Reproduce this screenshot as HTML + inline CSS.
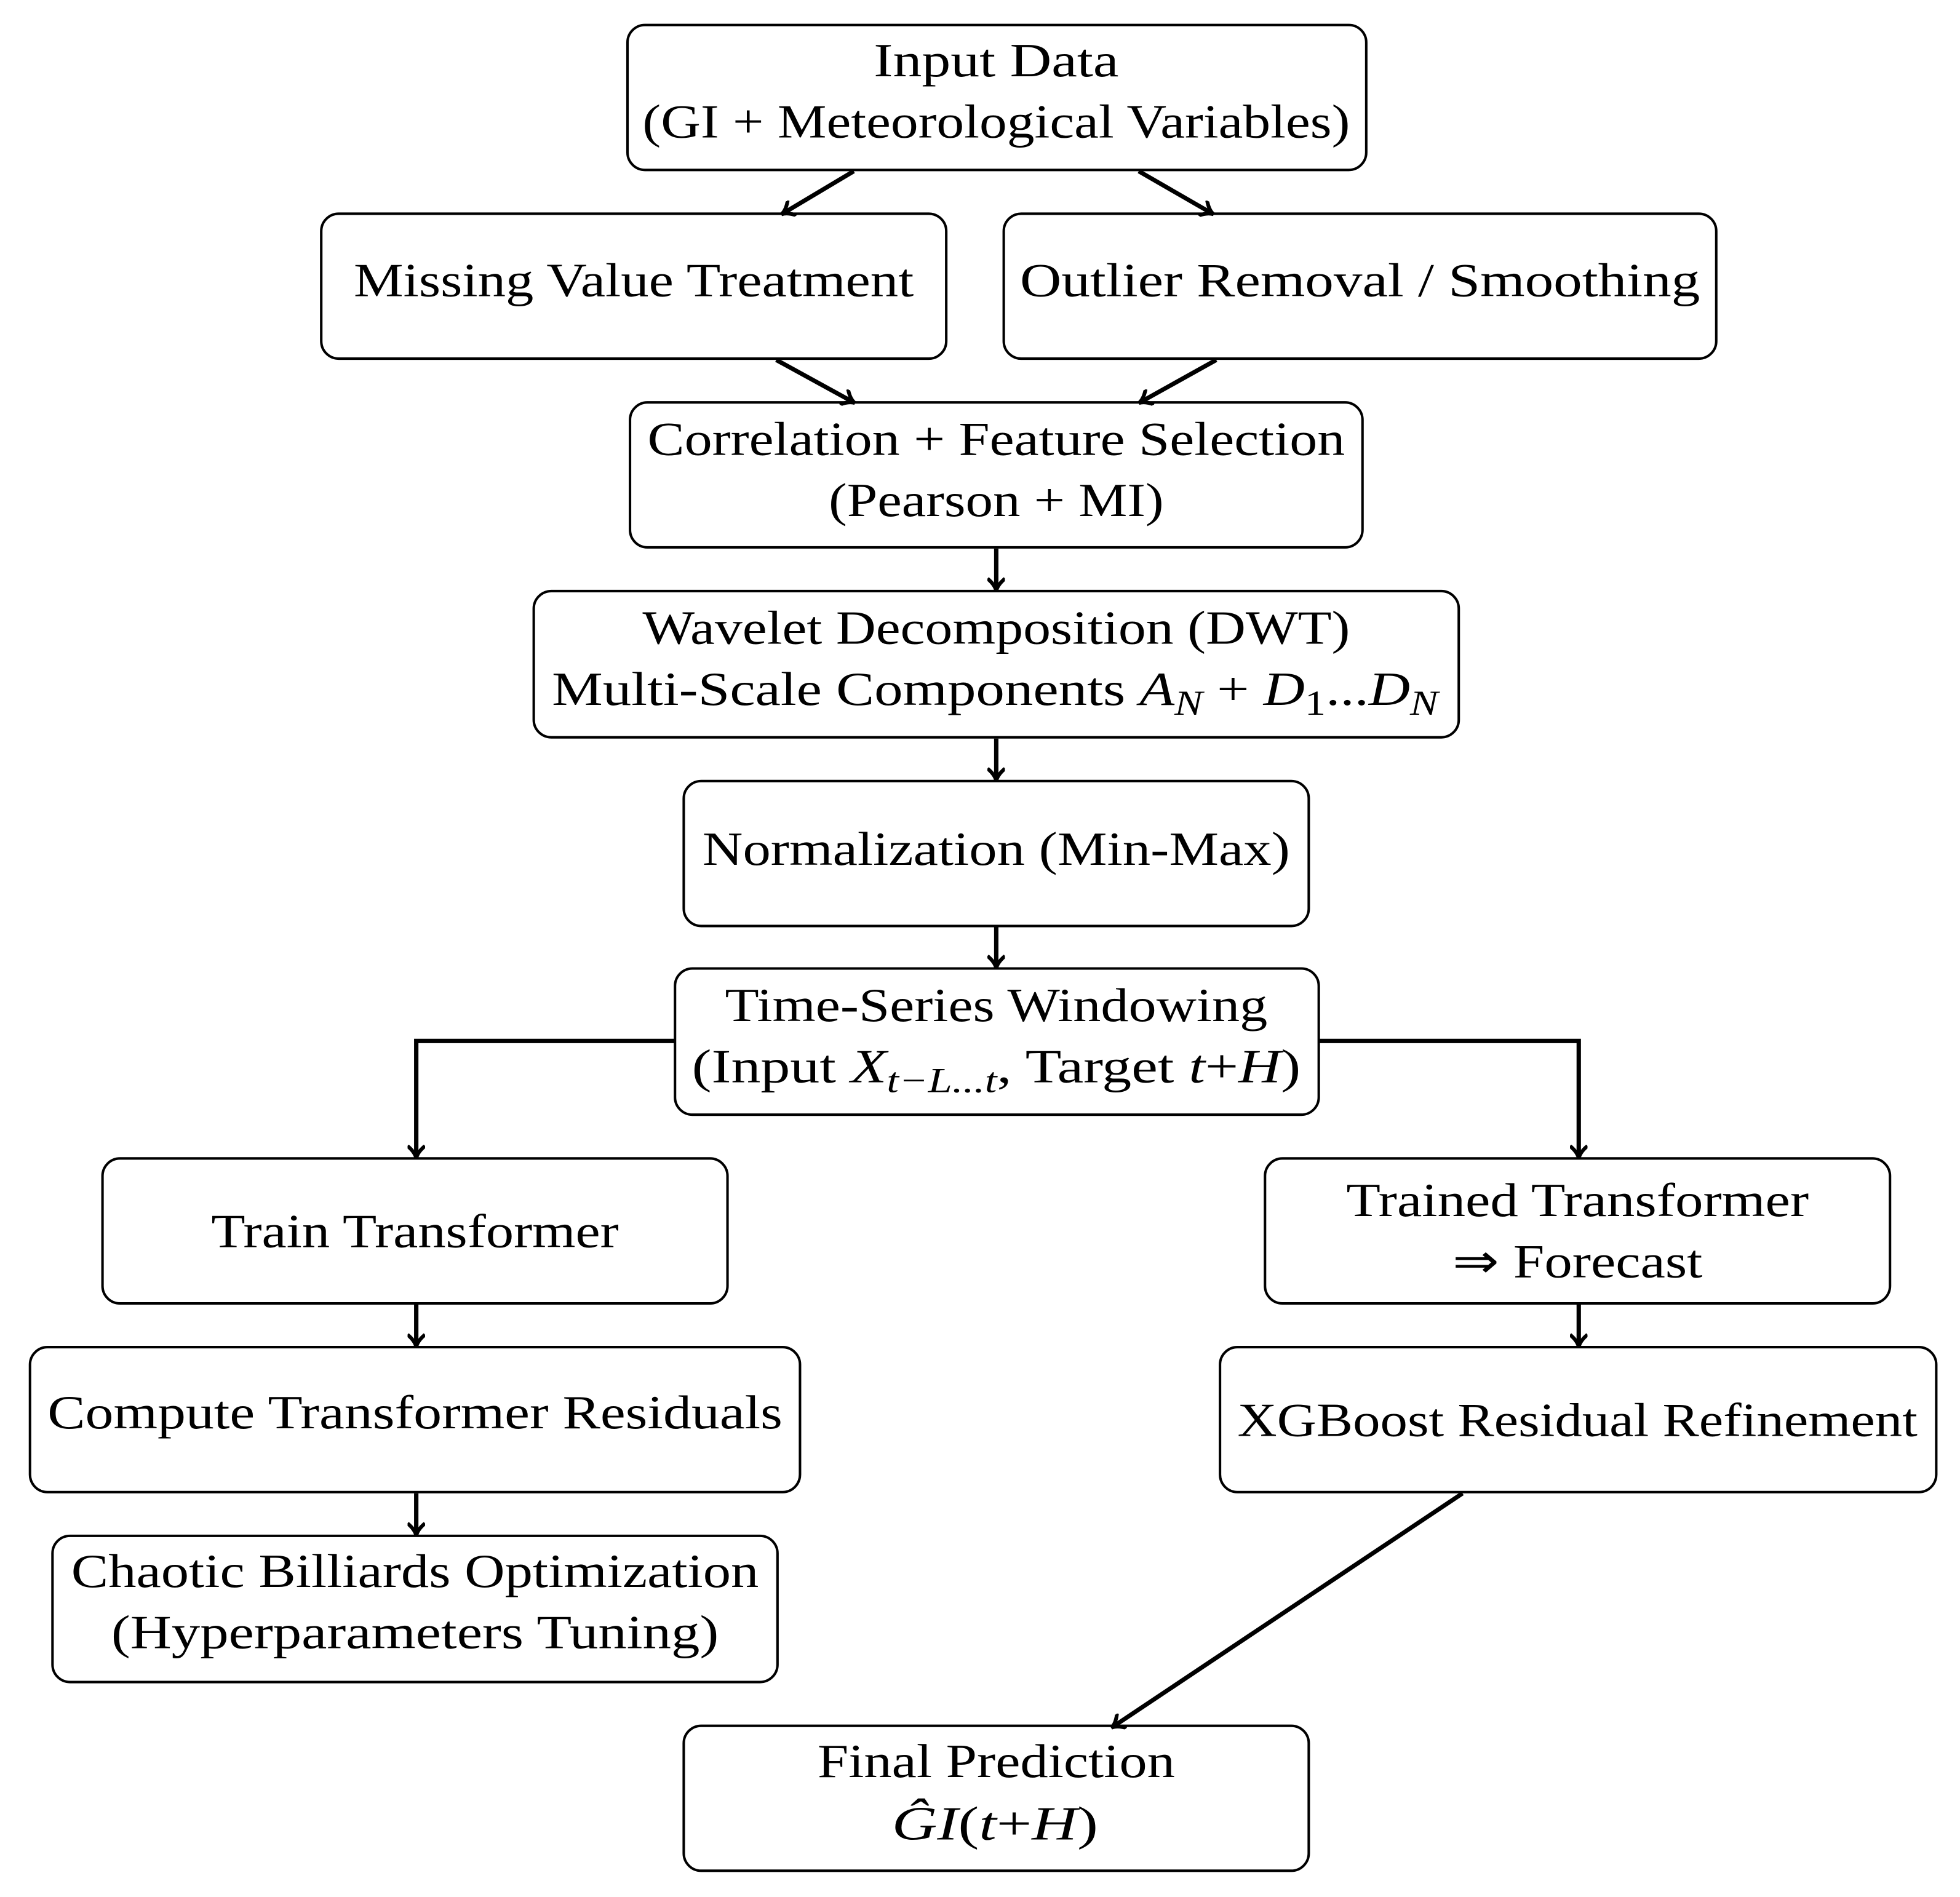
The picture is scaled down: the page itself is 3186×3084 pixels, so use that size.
<!DOCTYPE html>
<html><head><meta charset="utf-8"><style>
html,body{margin:0;padding:0;background:#fff;}
svg{display:block;}
text{font-family:"Liberation Serif",serif;font-size:38px;fill:#000;}
</style></head><body>
<svg width="3186" height="3084" viewBox="0 0 1568 1518" preserveAspectRatio="none" xmlns="http://www.w3.org/2000/svg">
<defs>
<marker id="a" markerWidth="14" markerHeight="14" refX="10" refY="7" orient="auto" markerUnits="userSpaceOnUse" viewBox="0 0 14 14">
<path d="M1,0 Q6,6 11,7 Q6,8 1,14" fill="none" stroke="#000" stroke-width="3"/>
</marker>
</defs>
<g fill="none" stroke="#000" stroke-width="2">
<rect x="502" y="20" width="591" height="116" rx="14"/>
<rect x="257" y="171" width="500" height="116" rx="14"/>
<rect x="803" y="171" width="570" height="116" rx="14"/>
<rect x="504" y="322" width="586" height="116" rx="14"/>
<rect x="427" y="473" width="740" height="117" rx="14"/>
<rect x="547" y="625" width="500" height="116" rx="14"/>
<rect x="540" y="775" width="515" height="117" rx="14"/>
<rect x="82" y="927" width="500" height="116" rx="14"/>
<rect x="1012" y="927" width="500" height="116" rx="14"/>
<rect x="24" y="1078" width="616" height="116" rx="14"/>
<rect x="976" y="1078" width="573" height="116" rx="14"/>
<rect x="42" y="1229" width="580" height="117" rx="14"/>
<rect x="547" y="1381" width="500" height="116" rx="14"/>
</g>
<g fill="none" stroke="#000" stroke-width="3.5" marker-end="url(#a)">
<path d="M683,137 L626,171"/>
<path d="M911,137 L970,171"/>
<path d="M621,288 L683,322"/>
<path d="M973,288 L912,322"/>
<path d="M797,439 L797,472"/>
<path d="M797,591 L797,624"/>
<path d="M797,742 L797,774"/>
<path d="M540,833 L333,833 L333,926"/>
<path d="M1055,833 L1263,833 L1263,926"/>
<path d="M333,1044 L333,1077"/>
<path d="M333,1195 L333,1228"/>
<path d="M1263,1044 L1263,1077"/>
<path d="M1170,1195 L890,1382"/>
</g>
<g text-anchor="middle">
<text x="797" y="61" textLength="196" lengthAdjust="spacingAndGlyphs">Input Data</text>
<text x="797" y="110" textLength="566" lengthAdjust="spacingAndGlyphs">(GI + Meteorological Variables)</text>
<text x="507" y="237" textLength="448" lengthAdjust="spacingAndGlyphs">Missing Value Treatment</text>
<text x="1088" y="237" textLength="544" lengthAdjust="spacingAndGlyphs">Outlier Removal / Smoothing</text>
<text x="797" y="364" textLength="558" lengthAdjust="spacingAndGlyphs">Correlation + Feature Selection</text>
<text x="797" y="413" textLength="268" lengthAdjust="spacingAndGlyphs">(Pearson + MI)</text>
<text x="797" y="515" textLength="566" lengthAdjust="spacingAndGlyphs">Wavelet Decomposition (DWT)</text>
<text x="796" y="564" font-size="42" textLength="709" lengthAdjust="spacingAndGlyphs">Multi-Scale Components <tspan font-style="italic">A</tspan><tspan font-style="italic" font-size="28" dy="8">N</tspan><tspan dy="-8"> + </tspan><tspan font-style="italic">D</tspan><tspan font-size="28" dy="8">1</tspan><tspan dy="-8">...</tspan><tspan font-style="italic">D</tspan><tspan font-style="italic" font-size="28" dy="8">N</tspan></text>
<text x="797" y="692" textLength="470" lengthAdjust="spacingAndGlyphs">Normalization (Min-Max)</text>
<text x="797" y="817" textLength="434" lengthAdjust="spacingAndGlyphs">Time-Series Windowing</text>
<text x="797" y="866" font-size="42" textLength="487" lengthAdjust="spacingAndGlyphs">(Input <tspan font-style="italic">X</tspan><tspan font-style="italic" font-size="28" dy="8">t−L...t</tspan><tspan dy="-8">, Target </tspan><tspan font-style="italic">t</tspan>+<tspan font-style="italic">H</tspan>)</text>
<text x="332" y="998" textLength="326" lengthAdjust="spacingAndGlyphs">Train Transformer</text>
<text x="1262" y="973" textLength="370" lengthAdjust="spacingAndGlyphs">Trained Transformer</text>
<text x="1262" y="1022" textLength="200" lengthAdjust="spacingAndGlyphs">⇒ Forecast</text>
<text x="332" y="1143" textLength="588" lengthAdjust="spacingAndGlyphs">Compute Transformer Residuals</text>
<text x="1262" y="1149" textLength="544" lengthAdjust="spacingAndGlyphs">XGBoost Residual Refinement</text>
<text x="332" y="1270" textLength="550" lengthAdjust="spacingAndGlyphs">Chaotic Billiards Optimization</text>
<text x="332" y="1319" textLength="486" lengthAdjust="spacingAndGlyphs">(Hyperparameters Tuning)</text>
<text x="797" y="1422" textLength="286" lengthAdjust="spacingAndGlyphs">Final Prediction</text>
<text x="796" y="1472" font-size="42" font-style="italic" textLength="165" lengthAdjust="spacingAndGlyphs">Ĝ<tspan>I</tspan><tspan font-style="normal">(</tspan>t<tspan font-style="normal">+</tspan>H<tspan font-style="normal">)</tspan></text>
</g>
</svg>
</body></html>
